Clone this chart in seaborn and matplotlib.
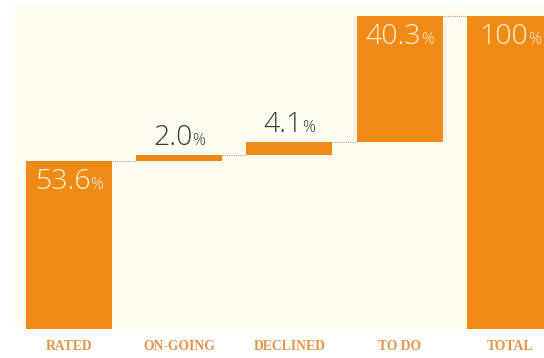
import matplotlib
matplotlib.use("Agg")
import matplotlib.pyplot as plt
import seaborn as sns
import pandas as pd
import numpy as np
from matplotlib.offsetbox import TextArea, HPacker, AnnotationBbox

categories = ["RATED", "ON-GOING", "DECLINED", "TO DO", "TOTAL"]
values = [53.6, 2.0, 4.1, 40.3, 100.0]
value_labels = ["53.6", "2.0", "4.1", "40.3", "100"]
is_total = [False, False, False, False, True]

# waterfall bottoms computed from the data
bottoms = []
running = 0.0
for v, t in zip(values, is_total):
    if t:
        bottoms.append(0.0)
    else:
        bottoms.append(running)
        running += v
bottoms = np.array(bottoms)

df = pd.DataFrame({"category": categories, "value": values})

sns.set_theme(style="white")
plt.rcParams['font.family'] = ['Open Sans', 'DejaVu Sans']

BAR = "#EF8A14"
CREAM = "#FEFCEE"

fig = plt.figure(figsize=(5.44, 3.58), dpi=100, facecolor="white")
ax = fig.add_axes([13/544, 1 - 329/358, 1 - 13/544, (329 - 5)/358])
ax.set_facecolor(CREAM)

sns.barplot(data=df, x="category", y="value", order=categories,
            color=BAR, saturation=1, width=0.78, bottom=bottoms,
            linewidth=0, ax=ax)

ax.set_xlim(-0.508, 4.31)
ax.set_ylim(0, 103.5)

# connectors
w = 0.78
tops = bottoms + np.array(values)
for i in range(len(values) - 1):
    y = tops[i]
    ax.plot([i + w / 2, i + 1 - w / 2], [y, y], color="#a8a8a8",
            lw=0.8, ls=(0, (1, 1)), zorder=1)

# value labels
for i, (lab, b, v) in enumerate(zip(value_labels, bottoms, values)):
    inside = v > 10
    col = "#FDF1D6" if inside else "#3a3a3a"
    fam = ["Open Sans", "DejaVu Sans"]
    num = TextArea(lab, textprops=dict(color=col, fontsize=20.5, fontweight="light", family=fam))
    pct = TextArea("%", textprops=dict(color=col, fontsize=11.5, fontweight="light", family=fam))
    box = HPacker(children=[num, pct], align="baseline", pad=0, sep=0)
    top = b + v
    if inside:
        ab = AnnotationBbox(box, (i, top), xybox=(0, -5), xycoords="data",
                            boxcoords="offset points", box_alignment=(0.5, 1.0),
                            frameon=False, pad=0)
    else:
        ab = AnnotationBbox(box, (i, top), xybox=(0, 2), xycoords="data",
                            boxcoords="offset points", box_alignment=(0.5, 0.0),
                            frameon=False, pad=0)
    ax.add_artist(ab)

for s in ax.spines.values():
    s.set_visible(False)
ax.set_xlabel("")
ax.set_ylabel("")
ax.set_yticks([])
ax.tick_params(axis="x", length=0, pad=8)
ax.set_xticks(range(len(categories)))
ax.set_xticklabels(categories, family=["Liberation Serif", "DejaVu Serif"],
                   fontweight="bold", fontsize=9.8, color="#E6964A")

fig.savefig("out.png", dpi=100, facecolor="white")
